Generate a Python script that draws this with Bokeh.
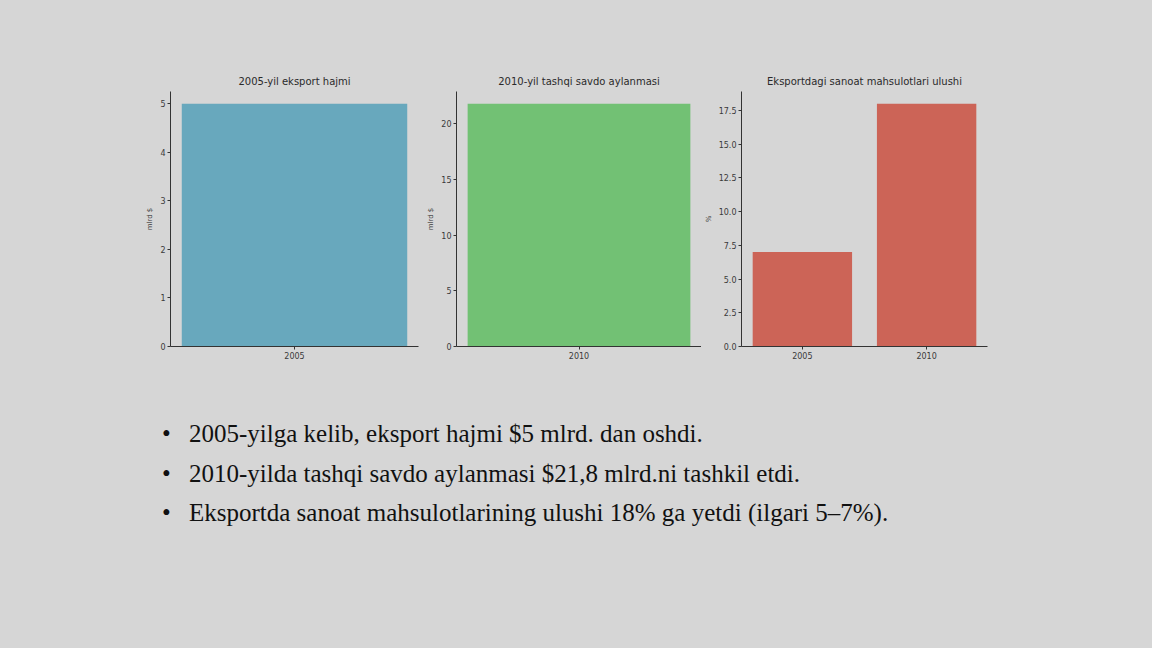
from bokeh.plotting import figure
from bokeh.layouts import column, row
from bokeh.models import Range1d, FixedTicker, Div, Spacer, ColumnDataSource
from bokeh.embed import file_html
from bokeh.resources import INLINE

# ---- data ----
years_export = ["2005"]
export_volume = [5.0]            # mlrd $
years_trade = ["2010"]
trade_turnover = [21.8]          # mlrd $
years_share = ["2005", "2010"]
industry_share = [7.0, 18.0]     # %

titles = ["2005-yil eksport hajmi", "2010-yil tashqi savdo aylanmasi",
          "Eksportdagi sanoat mahsulotlari ulushi"]
ylabels = ["mlrd $", "mlrd $", "%"]
bullets = [
    "2005-yilga kelib, eksport hajmi $5 mlrd. dan oshdi.",
    "2010-yilda tashqi savdo aylanmasi $21,8 mlrd.ni tashkil etdi.",
    "Eksportda sanoat mahsulotlarining ulushi 18% ga yetdi (ilgari 5\u20137%).",
]

BG = "#d6d6d6"


def make(title, cats, vals, color, ylabel, ticks, fmt_dec, frame_w, left_border, right_border):
    n = len(cats)
    xs = list(range(n))
    pad = 0.05 * (n - 1 + 0.8)
    p = figure(frame_width=frame_w, frame_height=255,
               x_range=Range1d(-0.4 - pad, n - 1 + 0.4 + pad),
               y_range=Range1d(0, max(vals) * 1.05),
               output_backend="svg", toolbar_location=None, title=title,
               min_border_left=left_border, min_border_right=right_border,
               min_border_top=30, min_border_bottom=20)
    src = ColumnDataSource(dict(x=xs, top=vals))
    p.vbar(x="x", top="top", width=0.8, source=src, fill_color=color, line_color=None)
    p.background_fill_color = BG
    p.border_fill_color = BG
    p.outline_line_color = None
    p.grid.visible = False
    p.title.align = "center"
    p.title.text_font = "DejaVu Sans"
    p.title.text_font_size = "10px"
    p.title.text_font_style = "normal"
    p.title.text_color = "#2a2a2a"
    p.xaxis.ticker = FixedTicker(ticks=xs)
    p.xaxis.major_label_overrides = {i: c for i, c in enumerate(cats)}
    p.yaxis.ticker = FixedTicker(ticks=ticks)
    if fmt_dec:
        p.yaxis.major_label_overrides = {t: f"{t:.1f}" for t in ticks}
    else:
        p.yaxis.major_label_overrides = {t: f"{int(t)}" for t in ticks}
    p.yaxis.axis_label = ylabel
    for ax in (p.xaxis[0], p.yaxis[0]):
        ax.axis_line_color = "#333333"
        ax.major_tick_line_color = "#333333"
        ax.major_tick_in = 0
        ax.major_tick_out = 3
        ax.minor_tick_line_color = None
        ax.major_label_text_font = "DejaVu Sans"
        ax.major_label_text_font_size = "8px"
        ax.major_label_text_color = "#3a3a3a"
        ax.major_label_standoff = 2
        ax.axis_label_text_font = "DejaVu Sans"
        ax.axis_label_text_font_size = "7px"
        ax.axis_label_text_font_style = "normal"
        ax.axis_label_text_color = "#3a3a3a"
        ax.axis_label_standoff = 3
    return p


# frames: p1 170-418, p2 456-701, p3 741-987 ; top 91, bottom 346
p1 = make(titles[0], years_export, export_volume, "#68a8bd", ylabels[0],
          [0, 1, 2, 3, 4, 5], False, 248, 34, 4)
p2 = make(titles[1], years_trade, trade_turnover, "#72c174", ylabels[1],
          [0, 5, 10, 15, 20], False, 245, 34, 0)
p3 = make(titles[2], years_share, industry_share, "#cc6457", ylabels[2],
          [0, 2.5, 5, 7.5, 10, 12.5, 15, 17.5], True, 246, 40, 10)

charts = row(Spacer(width=136), p1, p2, p3, spacing=0)

lines_html = "".join(
    f'<div style="white-space:nowrap;"><span style="display:inline-block;width:27px;">\u2022</span>{b}</div>'
    for b in bullets)
div = Div(text=f'<div style="font-family:\'Liberation Serif\';font-size:25px;color:#111;line-height:39.5px;">{lines_html}</div>',
          width=900, height=130)
text_row = row(Spacer(width=157), div)

layout = column(Spacer(height=61), charts, Spacer(height=43), text_row,
                width=1152, height=648, styles={"background-color": BG})

html = file_html(layout, INLINE)
html = html.replace("<head>", f"<head><style>html,body{{background:{BG};}}</style>", 1)
open("out.html", "w").write(html)
